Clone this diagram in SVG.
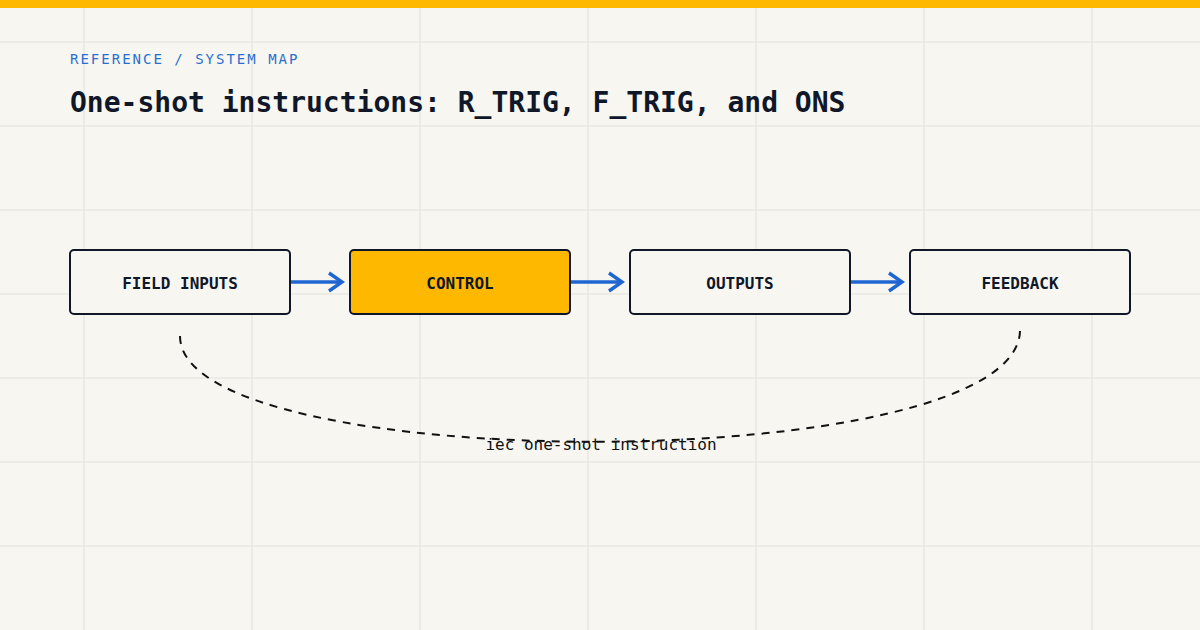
<svg xmlns="http://www.w3.org/2000/svg" width="1200" height="630" viewBox="0 0 1200 630">
<defs>
<style>
.grid line{stroke:#e9e8e2;stroke-width:1.5}
.node rect{fill:#f7f6f1;stroke:#0f1729;stroke-width:2}
.node.hl rect{fill:#ffb800}
.node text{font-family:"DejaVu Sans Mono",monospace;font-weight:bold;font-size:16px;fill:#0f1729;text-anchor:middle}
.flow{stroke:#1f66d1;stroke-width:3.5;fill:none}
.loop{stroke:#111111;stroke-width:2;fill:none;stroke-dasharray:8 7}
</style>
<marker id="arr" viewBox="0 0 20 22" refX="17" refY="11" markerWidth="20" markerHeight="22" markerUnits="userSpaceOnUse" orient="auto">
<path d="M4,2 L17,11 L4,20" fill="none" stroke="#1f66d1" stroke-width="3.5"/>
</marker>
</defs>
<rect width="1200" height="630" fill="#f7f6f1"/>
<g class="grid">
<line x1="84" y1="0" x2="84" y2="630"/><line x1="252" y1="0" x2="252" y2="630"/><line x1="420" y1="0" x2="420" y2="630"/><line x1="588" y1="0" x2="588" y2="630"/><line x1="756" y1="0" x2="756" y2="630"/><line x1="924" y1="0" x2="924" y2="630"/><line x1="1092" y1="0" x2="1092" y2="630"/>
<line x1="0" y1="42" x2="1200" y2="42"/><line x1="0" y1="126" x2="1200" y2="126"/><line x1="0" y1="210" x2="1200" y2="210"/><line x1="0" y1="294" x2="1200" y2="294"/><line x1="0" y1="378" x2="1200" y2="378"/><line x1="0" y1="462" x2="1200" y2="462"/><line x1="0" y1="546" x2="1200" y2="546"/>
</g>
<rect x="0" y="0" width="1200" height="8" fill="#ffb800"/>
<text x="70" y="64" font-family="DejaVu Sans Mono,monospace" font-size="14" letter-spacing="2" fill="#2a6fd0">REFERENCE / SYSTEM MAP</text>
<text x="70" y="112" font-family="DejaVu Sans Mono,monospace" font-size="28" font-weight="bold" fill="#0f1729">One-shot instructions: R_TRIG, F_TRIG, and ONS</text>
<g id="connectors">
<path class="flow" d="M291,282 H342" marker-end="url(#arr)"/>
<path class="flow" d="M571,282 H622" marker-end="url(#arr)"/>
<path class="flow" d="M851,282 H902" marker-end="url(#arr)"/>
<path class="loop" d="M180,336 C180,478 1020,478 1020,330"/>
<text x="601" y="450" font-family="DejaVu Sans Mono,monospace" font-size="16" fill="#111111" text-anchor="middle">iec one-shot instruction</text>
</g>
<g id="field-inputs" class="node"><rect x="70" y="250" width="220" height="64" rx="4"/><text x="180" y="289">FIELD INPUTS</text></g>
<g id="control" class="node hl"><rect x="350" y="250" width="220" height="64" rx="4"/><text x="460" y="289">CONTROL</text></g>
<g id="outputs" class="node"><rect x="630" y="250" width="220" height="64" rx="4"/><text x="740" y="289">OUTPUTS</text></g>
<g id="feedback" class="node"><rect x="910" y="250" width="220" height="64" rx="4"/><text x="1020" y="289">FEEDBACK</text></g>
</svg>
